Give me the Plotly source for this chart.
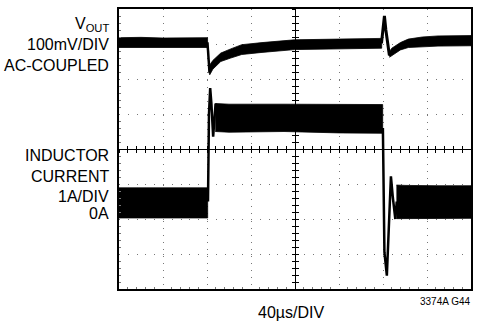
import plotly.graph_objects as go

# scope setup: 40us/DIV, 8 x 8 divisions
T_DIV = 40
N_DIV = 8
VOUT_POS = 7.0   # channel 1 position (div), 100mV/DIV
VOUT_SCALE = 100
IL_POS = 2.0     # channel 2 position (div) = 0A, 1A/DIV
IL_SCALE = 1

# --- VOUT (mV, AC-coupled), envelope of the noisy trace
vout_t1 = [0, 20, 40, 60, 80.5]
vout_hi1 = [18, 19, 17, 18, 18]
vout_lo1 = [-10, -9, -10, -10, -10]

vout_edge_t = [80.4, 81.3, 82.3]
vout_edge_mv = [5, -45, -82]

vout_t2 = [81.8, 82.5, 85.3, 92.5, 101.6, 111.6, 130, 159.6, 200, 238.8]
vout_hi2 = [-58, -60, -47, -26, -14, -2, 4, 12, 14, 16]
vout_lo2 = [-80, -88, -72, -50, -40, -30, -24, -16, -13, -12]

vout_spike_t = [238.6, 240.0, 241.3, 242.6, 244.5, 245.8, 247.5]
vout_spike_mv = [2, 40, 80, 40, 0, -32, -26]

vout_t3 = [245.8, 248, 255.8, 263, 275.7, 290, 320]
vout_hi3 = [-22, -12, 4, 14, 20, 23, 24]
vout_lo3 = [-38, -34, -17, -10, -8, -6, -5]

# --- inductor current (A)
il_t1 = [0, 40, 80.6]
il_hi1 = [0.89, 0.9, 0.89]
il_lo1 = [0.03, 0.03, 0.03]

il_edge1_t = [80.9, 81.8, 82.9, 84.0, 85.6, 86.8, 87.8]
il_edge1_a = [0.5, 3.0, 3.74, 3.3, 2.35, 2.8, 3.3]

il_t2 = [87.5, 100, 150, 200, 239.7]
il_hi2 = [3.3, 3.28, 3.28, 3.27, 3.27]
il_lo2 = [2.5, 2.48, 2.5, 2.46, 2.45]

il_edge2_t = [239.9, 240.4, 241.3, 243.5, 245.0, 247.2, 249.0, 251.2, 252.5]
il_edge2_a = [2.6, 1.0, -0.95, -1.62, -0.5, 1.22, 0.6, 0.0, 0.5]

il_t3 = [252.2, 260, 290, 320]
il_hi3 = [0.97, 0.96, 0.95, 0.95]
il_lo3 = [0.01, 0.02, 0.02, 0.02]

FONT = "Liberation Sans Narrow, Arial Narrow, Liberation Sans, Arial, sans-serif"


def vout_div(v):
    return [VOUT_POS + x / VOUT_SCALE for x in v]


def il_div(a):
    return [IL_POS + x / IL_SCALE for x in a]


def band(t, hi, lo):
    # closed polygon between upper and lower envelope
    return go.Scatter(x=list(t) + list(t)[::-1], y=list(hi) + list(lo)[::-1],
                      fill="toself", fillcolor="black", mode="lines",
                      line=dict(color="black", width=0.8), hoverinfo="skip")


def wire(t, y, w=2.5):
    return go.Scatter(x=t, y=y, mode="lines", line=dict(color="black", width=w),
                      hoverinfo="skip")


fig = go.Figure()
fig.add_trace(band(vout_t1, vout_div(vout_hi1), vout_div(vout_lo1)))
fig.add_trace(wire(vout_edge_t, vout_div(vout_edge_mv)))
fig.add_trace(band(vout_t2, vout_div(vout_hi2), vout_div(vout_lo2)))
fig.add_trace(wire(vout_spike_t, vout_div(vout_spike_mv), 3))
fig.add_trace(band(vout_t3, vout_div(vout_hi3), vout_div(vout_lo3)))

fig.add_trace(band(il_t1, il_div(il_hi1), il_div(il_lo1)))
fig.add_trace(wire(il_edge1_t, il_div(il_edge1_a)))
fig.add_trace(band(il_t2, il_div(il_hi2), il_div(il_lo2)))
fig.add_trace(wire(il_edge2_t, il_div(il_edge2_a)))
fig.add_trace(band(il_t3, il_div(il_hi3), il_div(il_lo3)))

# empty traces so the centre graticule axes get drawn
for xa, ya in [("x2", "y"), ("x3", "y"), ("x", "y2"), ("x", "y3")]:
    fig.add_trace(go.Scatter(x=[], y=[], xaxis=xa, yaxis=ya, hoverinfo="skip"))

x_range = [0, T_DIV * N_DIV]
y_range = [0, N_DIV]

frame = dict(showline=True, linecolor="black", linewidth=2, mirror=True,
             showticklabels=False, ticks="", zeroline=False,
             showgrid=True, gridcolor="#777777", gridwidth=1)

# centre graticule lines with cross ticks
centre = dict(anchor="free", position=0.5, showline=True, linecolor="black",
              linewidth=1, showticklabels=False, showgrid=False, zeroline=False,
              ticklen=3, tickwidth=1, tickcolor="black")

fig.update_layout(
    width=482, height=324,
    margin=dict(l=119, r=11, t=7, b=35),
    paper_bgcolor="white", plot_bgcolor="white",
    showlegend=False,
    xaxis=dict(range=x_range, dtick=T_DIV, griddash="1px,6.05px",
               minor=dict(dtick=T_DIV / 5, ticks="inside", ticklen=2,
                          tickcolor="#777777"), **frame),
    yaxis=dict(range=y_range, dtick=1, griddash="1px,7.8px",
               minor=dict(dtick=0.2, ticks="inside", ticklen=2,
                          tickcolor="#777777"), **frame),
    xaxis2=dict(overlaying="x", range=x_range, dtick=T_DIV / 5, ticks="inside", **centre),
    xaxis3=dict(overlaying="x", range=x_range, dtick=T_DIV / 5, ticks="outside", **centre),
    yaxis2=dict(overlaying="y", range=y_range, dtick=0.2, ticks="inside", **centre),
    yaxis3=dict(overlaying="y", range=y_range, dtick=0.2, ticks="outside", **centre),
)

labels = [
    ("V<sub>OUT</sub>", 7.56),
    ("100mV/DIV", 6.98),
    ("AC-COUPLED", 6.39),
    ("INDUCTOR", 3.81),
    ("CURRENT", 3.21),
    ("1A/DIV", 2.64),
    ("0A", 2.16),
]
for txt, yv in labels:
    fig.add_annotation(text=txt, xref="paper", x=-0.023, yref="y", y=yv,
                       xanchor="right", yanchor="middle", showarrow=False,
                       font=dict(family=FONT, size=16, color="black"))

fig.add_annotation(text="40µs/DIV", xref="paper", x=0.49, yref="paper", y=-0.083,
                   xanchor="center", yanchor="middle", showarrow=False,
                   font=dict(family=FONT, size=16, color="black"))
fig.add_annotation(text="3374A G44", xref="paper", x=1.003, yref="paper", y=-0.043,
                   xanchor="right", yanchor="middle", showarrow=False,
                   font=dict(family=FONT, size=10, color="black"))

# the page body has a default 8px margin; drop it so the figure sits at 0,0
fig.write_html("out.html", config=dict(displayModeBar=False),
               post_script="document.body.style.margin='0';")
